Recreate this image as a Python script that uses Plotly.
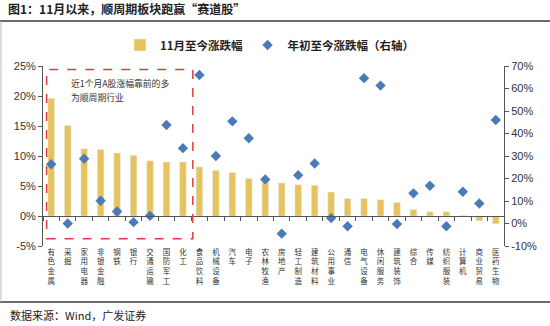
import plotly.graph_objects as go

categories = ["有色金属", "采掘", "家用电器", "非银金融", "钢铁", "银行", "交通运输", "国防军工",
              "化工", "食品饮料", "机械设备", "汽车", "电子", "农林牧渔", "房地产", "轻工制造",
              "建筑材料", "公用事业", "通信", "电气设备", "休闲服务", "建筑装饰", "综合", "传媒",
              "纺织服装", "计算机", "商业贸易", "医药生物"]
nov_change = [19.6, 15.1, 11.2, 11.1, 10.5, 10.1, 9.2, 9.0, 9.0, 8.2, 7.6, 7.25, 6.25, 5.75,
              5.5, 5.2, 5.1, 4.0, 2.9, 2.9, 2.7, 2.25, 1.1, 0.7, 0.7, 0.1, -0.8, -1.3]
ytd_change = [26.3, 0.0, 28.8, 10.1, 5.3, 0.6, 3.4, 43.8, 33.5, 66.0, 30.0, 45.4, 37.9, 19.6,
              -4.5, 21.5, 26.7, 2.4, -1.2, 64.6, 61.3, -0.2, 13.4, 16.8, -1.2, 14.1, 8.9, 46.0]
left_ticks = [-5, 0, 5, 10, 15, 20, 25]
right_ticks = [-10, 0, 10, 20, 30, 40, 50, 60, 70]
left_labels = [f"{v}%" for v in left_ticks]
right_labels = [f"{v}%" for v in right_ticks]

W, H = 550, 326
L, R, T, B = 43, 46, 66, 80
PW, PH = W - L - R, H - T - B


def px_x(p):
    return (p - L) / PW


def px_y(p):
    return (H - B - p) / PH


stacked = ["<br>".join(list(c)) for c in categories]
CJK = "Noto Sans CJK SC"
bar_color = "#E6C35C"
dia_color = "#4A7AB7"

fig = go.Figure()
fig.add_trace(go.Bar(x=categories, y=nov_change, name="<b>11月至今涨跌幅</b>",
                     marker_color=bar_color, width=0.4, xaxis="x", yaxis="y"))
fig.add_trace(go.Scatter(x=categories, y=ytd_change, name="<b>年初至今涨跌幅（右轴）</b>",
                         mode="markers", marker=dict(symbol="diamond", size=8, color=dia_color),
                         xaxis="x2", yaxis="y2"))

axis_font = dict(family="Liberation Sans, Arial", size=11, color="#333333")
fig.update_layout(
    width=W, height=H, margin=dict(l=L, r=R, t=T, b=B),
    paper_bgcolor="white", plot_bgcolor="white",
    showlegend=True,
    legend=dict(orientation="h", x=px_x(120), y=px_y(45), xanchor="left", yanchor="middle",
                font=dict(family=CJK, size=11.5, color="#222222"), bgcolor="rgba(0,0,0,0)",
                itemwidth=30),
    xaxis=dict(type="category", categoryorder="array", categoryarray=categories,
               range=[-0.5, len(categories) - 0.5], anchor="free", position=1 / 6,
               showline=True, linecolor="#555555", linewidth=1, ticks="outside",
               tickson="boundaries", ticklen=4, tickcolor="#555555", showticklabels=False,
               showgrid=False, zeroline=False),
    xaxis2=dict(type="category", categoryorder="array", categoryarray=categories,
                range=[-0.5, len(categories) - 0.5], overlaying="x", anchor="free", position=0,
                side="bottom", showline=False, ticks="", tickmode="array", tickvals=categories,
                ticktext=stacked, tickangle=0, tickfont=dict(family=CJK, size=7.5, color="#333333"),
                showgrid=False, zeroline=False),
    yaxis=dict(range=[-5, 25], tickmode="array", tickvals=left_ticks, ticktext=left_labels,
               showline=True, linecolor="#555555", linewidth=1, ticks="outside", ticklen=4,
               tickcolor="#555555", tickfont=axis_font, showgrid=False, zeroline=False),
    yaxis2=dict(range=[-10, 70], tickmode="array", tickvals=right_ticks, ticktext=right_labels,
                overlaying="y", side="right", anchor="x2", showline=True, linecolor="#555555",
                linewidth=1, ticks="outside", ticklen=4, tickcolor="#555555", tickfont=axis_font,
                showgrid=False, zeroline=False),
    title=dict(text="<b>图1：11月以来，顺周期板块跑赢“赛道股”</b>", x=8 / W, xanchor="left",
               xref="container", y=1 - 10 / H, yanchor="middle",
               yref="container", font=dict(family=CJK, size=12, color="#222222")),
)

# dashed callout box
fig.add_shape(type="rect", xref="x", yref="y", x0=-0.28, x1=8.6, y0=-3.8, y1=24.4,
              line=dict(color="#E03C3C", width=1.5, dash="dash"), fillcolor="rgba(0,0,0,0)")
note_lines = ["近1个月A股涨幅靠前的多", "为顺周期行业"]
for i, line in enumerate(note_lines):
    fig.add_annotation(text=line, xref="paper", yref="paper",
                       x=px_x(69), y=px_y(83 + 14 * i), xanchor="left", yanchor="middle",
                       align="left", showarrow=False,
                       font=dict(family=CJK, size=8.8, color="#333333"))

# frame lines
fig.add_shape(type="line", xref="paper", yref="paper", x0=px_x(0), x1=px_x(W), y0=px_y(21),
              y1=px_y(21), line=dict(color="#3a3a3a", width=1.5))
fig.add_shape(type="line", xref="paper", yref="paper", x0=px_x(0), x1=px_x(W), y0=px_y(302),
              y1=px_y(302), line=dict(color="#3a3a3a", width=1.5))
fig.add_shape(type="line", xref="paper", yref="paper", x0=px_x(1), x1=px_x(1), y0=px_y(21),
              y1=px_y(302), line=dict(color="#bbbbbb", width=1))

fig.add_annotation(text="数据来源：Wind，广发证券", xref="paper", yref="paper",
                   x=px_x(8), y=px_y(315), xanchor="left", yanchor="middle", showarrow=False,
                   font=dict(family=CJK, size=11, color="#222222"))

fig.write_html("out.html")
